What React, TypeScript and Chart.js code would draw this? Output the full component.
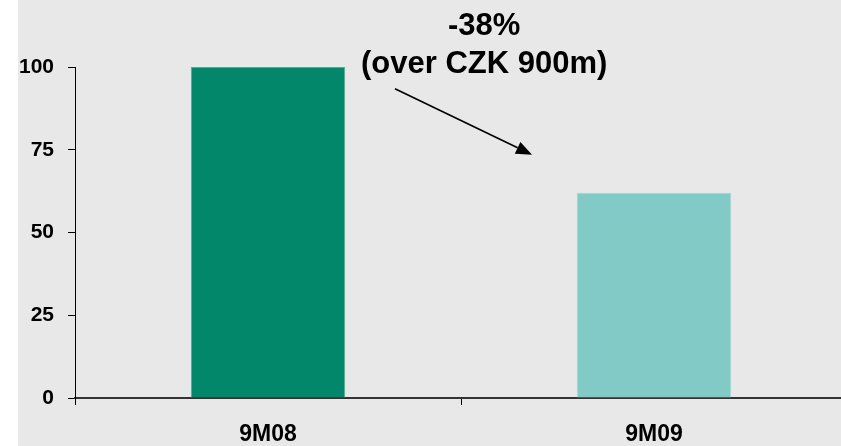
import React, { useEffect, useRef } from "react";
import { Chart, registerables } from "chart.js";

Chart.register(...registerables);

const categories = ["9M08", "9M09"];
const values = [100, 62];
const barColors = ["#03876b", "#82cac5"];
const barBorders = ["#4fae96", "#a3d8d3"];
const yMin = 0;
const yMax = 100;
const yStep = 25;
const annotationLines = ["-38%", "(over CZK 900m)"];
// annotation anchors in data units (category index, value)
const annotationTextX = 0.56;
const annotationTextY = [109.6, 98.3];
const arrowFrom = [0.329, 93.4];
const arrowTo = [0.684, 73.5];

const FONT = "'Liberation Sans', Arial, Helvetica, sans-serif";

const annotationPlugin = {
  id: "annot",
  afterDraw(chart: any) {
    const { ctx, scales } = chart;
    const x = scales.x;
    const y = scales.y;
    ctx.save();
    ctx.fillStyle = "#000";
    ctx.font = `bold 31px ${FONT}`;
    ctx.textAlign = "center";
    ctx.textBaseline = "alphabetic";
    annotationLines.forEach((t, i) => {
      ctx.fillText(t, x.getPixelForValue(annotationTextX), y.getPixelForValue(annotationTextY[i]));
    });
    const x1 = x.getPixelForValue(arrowFrom[0]);
    const y1 = y.getPixelForValue(arrowFrom[1]);
    const x2 = x.getPixelForValue(arrowTo[0]);
    const y2 = y.getPixelForValue(arrowTo[1]);
    const ang = Math.atan2(y2 - y1, x2 - x1);
    const hl = 16;
    const hw = 6.5;
    const bx = x2 - hl * Math.cos(ang);
    const by = y2 - hl * Math.sin(ang);
    ctx.strokeStyle = "#000";
    ctx.lineWidth = 1.6;
    ctx.beginPath();
    ctx.moveTo(x1, y1);
    ctx.lineTo(bx, by);
    ctx.stroke();
    ctx.beginPath();
    ctx.moveTo(x2, y2);
    ctx.lineTo(bx - hw * Math.sin(ang), by + hw * Math.cos(ang));
    ctx.lineTo(bx + hw * Math.sin(ang), by - hw * Math.cos(ang));
    ctx.closePath();
    ctx.fill();
    ctx.restore();
  },
};

export default function App() {
  const ref = useRef<HTMLCanvasElement>(null);
  useEffect(() => {
    if (!ref.current) return;
    const chart = new Chart(ref.current, {
      type: "bar",
      data: {
        labels: categories,
        datasets: [
          {
            data: values,
            backgroundColor: barColors,
            borderColor: barBorders,
            borderWidth: 1,
            categoryPercentage: 1,
            barPercentage: 0.4,
          },
        ],
      },
      options: {
        animation: false,
        responsive: false,
        maintainAspectRatio: false,
        layout: { padding: { top: 67, left: 0, right: 0, bottom: 0 } },
        plugins: { legend: { display: false }, tooltip: { enabled: false } },
        scales: {
          x: {
            offset: true,
            afterFit: (s: any) => {
              s.height = 48;
            },
            grid: {
              offset: true,
              drawOnChartArea: false,
              drawTicks: true,
              tickLength: 7,
              color: "#000",
              lineWidth: 1,
            },
            border: { display: true, color: "#333", width: 2 },
            ticks: {
              color: "#000",
              padding: 16,
              font: { family: FONT, size: 23, weight: "bold" },
              maxRotation: 0,
            },
          },
          y: {
            min: yMin,
            max: yMax,
            afterFit: (s: any) => {
              s.width = 75;
            },
            grid: {
              drawOnChartArea: false,
              drawTicks: true,
              tickLength: 7,
              color: "#000",
              lineWidth: 1,
            },
            border: { display: true, color: "#000", width: 1 },
            ticks: {
              stepSize: yStep,
              color: "#000",
              padding: 14,
              font: { family: FONT, size: 21, weight: "bold" },
            },
          },
        },
      },
      plugins: [annotationPlugin],
    });
    return () => chart.destroy();
  }, []);
  return (
    <div
      style={{
        position: "fixed",
        left: 0,
        top: 0,
        width: 841,
        height: 446,
        overflow: "hidden",
        background: "#ffffff",
      }}
    >
      <div
        style={{
          position: "absolute",
          left: 18,
          top: 0,
          width: 823,
          height: 446,
          background: "#e7e8e7",
        }}
      />
      <canvas
        ref={ref}
        width={847}
        height={446}
        style={{ position: "absolute", left: 0, top: 0, width: 847, height: 446 }}
      />
    </div>
  );
}
